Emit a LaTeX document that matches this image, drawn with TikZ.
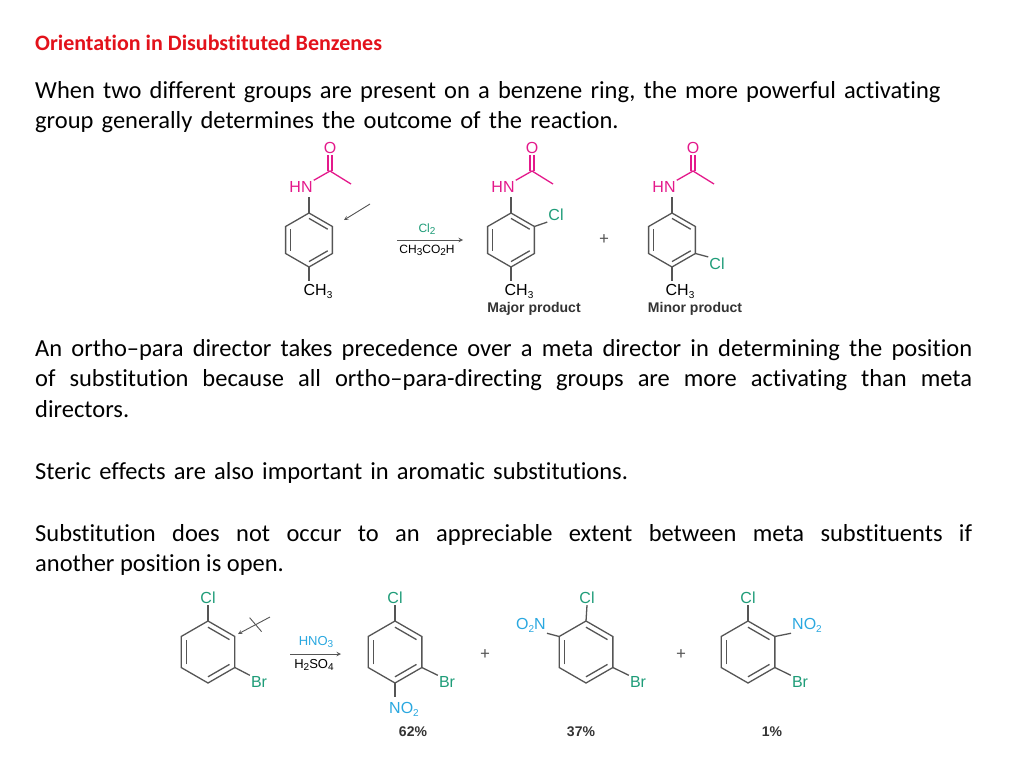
\documentclass[tikz,border=0pt]{standalone}
\usepackage{fontspec}
\setmainfont{Carlito}[Ligatures=NoCommon]
\newfontfamily\chem{Liberation Sans}
\usetikzlibrary{calc}
\definecolor{titred}{HTML}{E3121B}
\definecolor{amide}{HTML}{E4198B}
\definecolor{clg}{HTML}{1E9C78}
\definecolor{nob}{HTML}{2AA8E0}
\definecolor{bond}{HTML}{555555}
\newcommand\chsub[1]{\raisebox{-0.35ex}{\fontsize{10}{10}\selectfont #1}}
\tikzset{
  bd/.style={draw=bond, line width=1.3pt},
  lab/.style={font=\chem\fontsize{16}{16}\selectfont, inner sep=1pt},
  captxt/.style={font=\chem\bfseries\fontsize{14}{14}\selectfont, text=black!80, inner sep=0},
  body/.style={font=\fontsize{24.5}{30.5}\selectfont, inner sep=0, anchor=north west}
}
\newcommand\benz[4]{%
  \coordinate (#1c) at (#2,#3);
  \coordinate (#1-1) at ({#2},{#3-#4});
  \coordinate (#1-2) at ({#2+0.866*#4},{#3-0.5*#4});
  \coordinate (#1-3) at ({#2+0.866*#4},{#3+0.5*#4});
  \coordinate (#1-4) at ({#2},{#3+#4});
  \coordinate (#1-5) at ({#2-0.866*#4},{#3+0.5*#4});
  \coordinate (#1-6) at ({#2-0.866*#4},{#3-0.5*#4});
  \draw[bd] (#1-1)--(#1-2)--(#1-3)--(#1-4)--(#1-5)--(#1-6)--cycle;
  \draw[bd] ($(#1-1)!0.2!(#1c)$)--($(#1-2)!0.2!(#1c)$);
  \draw[bd] ($(#1-3)!0.2!(#1c)$)--($(#1-4)!0.2!(#1c)$);
  \draw[bd] ($(#1-5)!0.2!(#1c)$)--($(#1-6)!0.2!(#1c)$);
}
\newcommand\amide[3]{%
  \node[lab, text=amide] (#1hn) at ({#2-8},187) {HN};
  \coordinate (#1C) at ({#2+21},171);
  \node[lab, text=amide] (#1o) at ({#2+21},148) {O};
  \coordinate (#1me) at ({#2+42},184);
  \draw[bd, draw=amide] (#1hn.north east)--(#1C)--(#1me);
  \draw[bd, draw=amide] ($(#1C)+(-2,0)$)--($(#1o.south)+(-2,0)$);
  \draw[bd, draw=amide] ($(#1C)+(2,0)$)--($(#1o.south)+(2,0)$);
  \coordinate (#1nb) at ({#2},197);
  \draw[bd] (#1nb) -- (#3-1);
}
\begin{document}
\begin{tikzpicture}[x=1pt,y=-1pt]
\useasboundingbox (0,0) rectangle (1024,768);
\fill[white] (0,0) rectangle (1024,768);
\node[anchor=base west, inner sep=0, font=\bfseries\fontsize{22}{24}\selectfont, text=titred] (title) at (35,50) {Orientation in Disubstituted Benzenes};
\node[body, text width=960pt, align=left] (p1) at (35,81) {When two different groups are present on a benzene ring, the more powerful activating\\group generally determines the outcome of the reaction.};
\node[body, text width=937pt, align=justify] (p2) at (35,339) {An ortho--para director takes precedence over a meta director in determining the position\linebreak of substitution because all ortho--para-directing groups are more activating than meta\linebreak directors.};
\node[body, text width=937pt, align=left] (p3) at (35,462) {Steric effects are also important in aromatic substitutions.};
\node[body, text width=937pt, align=justify] (p4) at (35,524) {Substitution does not occur to an appreciable extent between meta substituents if\linebreak another position is open.};

\benz{ra}{309}{240}{27}
\amide{a}{309}{ra}
\node[lab] (ach3) at (318,291) {CH\chsub{3}};
\draw[bd] (ra-4)--(309,281);
\coordinate (arS) at (370,204);
\coordinate (arE) at (344,220);
\draw[bd, line width=0.9pt, -stealth] (arS)--(arE);

\coordinate (r1s) at (397,240);
\coordinate (r1e) at (463,240);
\draw[bd, line width=1pt, -stealth] (r1s)--(r1e);
\node[lab, text=clg, font=\chem\fontsize{12}{12}\selectfont] (cl2) at (427,229) {Cl\chsub{2}};
\node[lab, font=\chem\fontsize{12}{12}\selectfont] (acoh) at (427,250) {CH\chsub{3}CO\chsub{2}H};

\benz{rb}{511}{240}{27}
\amide{b}{511}{rb}
\node[lab, text=clg] (bcl) at (556,215) {Cl};
\draw[bd] (rb-2)--(bcl.south west);
\node[lab] (bch3) at (519,291) {CH\chsub{3}};
\draw[bd] (rb-4)--(511,281);
\node[captxt] (maj) at (534,309) {Major product};
\node[font=\fontsize{18}{18}\selectfont, text=bond] (plus1) at (604,240) {+};

\benz{rc}{672}{240}{27}
\amide{c}{672}{rc}
\node[lab, text=clg] (ccl) at (717,264) {Cl};
\draw[bd] (rc-3)--(ccl.north west);
\node[lab] (cch3) at (680,291) {CH\chsub{3}};
\draw[bd] (rc-4)--(672,281);
\node[captxt] (mnr) at (695,309) {Minor product};

\benz{sa}{208}{652}{31}
\node[lab, text=clg] (sacl) at (208,598) {Cl};
\draw[bd] (sa-1)--(sacl.south);
\node[lab, text=clg] (sabr) at (259,682) {Br};
\draw[bd] (sa-3)--(sabr.north west);
\coordinate (xs) at (270,617);
\coordinate (xe) at (238,634);
\draw[bd, line width=0.9pt, -stealth] (xs)--(xe);
\coordinate (xm) at ($(xs)!0.45!(xe)$);
\draw[bd, line width=0.9pt] ($(xm)+(-6,-7)$)--($(xm)+(6,7)$);

\coordinate (r2s) at (290,654);
\coordinate (r2e) at (341,654);
\draw[bd, line width=1pt, -stealth] (r2s)--(r2e);
\node[lab, text=nob, font=\chem\fontsize{13}{13}\selectfont] (hno3) at (316,642) {HNO\chsub{3}};
\node[lab, font=\chem\fontsize{13}{13}\selectfont] (h2so4) at (314,665) {H\chsub{2}SO\chsub{4}};

\benz{sb}{395}{652}{31}
\node[lab, text=clg] (sbcl) at (395,598) {Cl};
\draw[bd] (sb-1)--(sbcl.south);
\node[lab, text=clg] (sbbr) at (447,682) {Br};
\draw[bd] (sb-3)--(sbbr.north west);
\node[lab, text=nob] (sbno) at (404,709) {NO\chsub{2}};
\draw[bd] (sb-4)--(395,697);
\node[captxt] (p62) at (413,732) {62\%};
\node[font=\fontsize{18}{18}\selectfont, text=bond] (plus2) at (485,655) {+};

\benz{sc}{586}{652}{31}
\node[lab, text=clg] (sccl) at (587,598) {Cl};
\draw[bd] (sc-1)--(sccl.south);
\node[lab, text=clg] (scbr) at (638,682) {Br};
\draw[bd] (sc-3)--(scbr.north west);
\node[lab, text=nob] (scno) at (531,625) {O\chsub{2}N};
\draw[bd] (sc-6)--(scno.south east);
\node[captxt] (p37) at (581,732) {37\%};
\node[font=\fontsize{18}{18}\selectfont, text=bond] (plus3) at (681,655) {+};

\benz{sd}{748}{652}{31}
\node[lab, text=clg] (sdcl) at (748,598) {Cl};
\draw[bd] (sd-1)--(sdcl.south);
\node[lab, text=nob] (sdno) at (807,625) {NO\chsub{2}};
\draw[bd] (sd-2)--(sdno.south west);
\node[lab, text=clg] (sdbr) at (800,682) {Br};
\draw[bd] (sd-3)--(sdbr.north west);
\node[captxt] (p1p) at (772,732) {1\%};
\end{tikzpicture}
\end{document}
